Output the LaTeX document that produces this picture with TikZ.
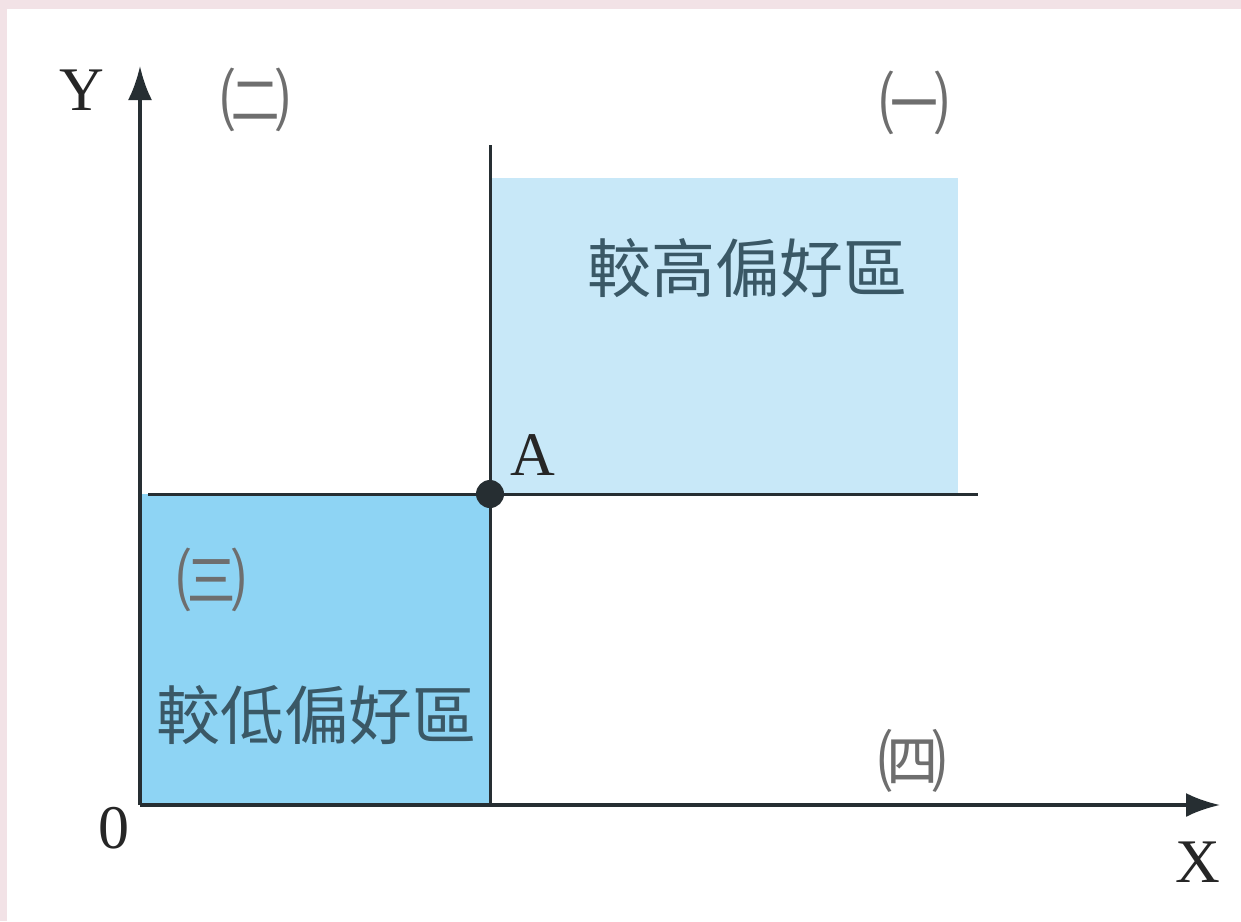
\documentclass[tikz,border=0pt]{standalone}
\usepackage{fontspec}
\setmainfont{Liberation Serif}
\newfontfamily\cjk{Noto Sans CJK TC}
\usetikzlibrary{arrows.meta}
\definecolor{hiblue}{HTML}{C8E8F8}
\definecolor{loblue}{HTML}{8ED4F4}
\definecolor{axiscol}{HTML}{262E32}
\definecolor{cjktext}{HTML}{3A5866}
\definecolor{numtext}{HTML}{6E6E6E}
\definecolor{scan}{HTML}{F2E2E6}
\tikzset{
  axisline/.style={draw=axiscol, line width=3.5pt, -{Latex[length=34pt,width=24pt]}},
  boundary/.style={draw=axiscol, line width=3pt},
  latin/.style={font=\fontsize{62}{62}\selectfont, text=black!85, inner sep=0pt, anchor=base},
  cjklabel/.style={font=\cjk\fontsize{64}{64}\selectfont, text=cjktext, inner sep=0pt},
  quadrant/.style={font=\cjk\fontsize{70}{70}\selectfont, text=numtext, inner sep=0pt},
  dot/.style={circle, fill=axiscol, minimum size=28pt, inner sep=0pt}
}
\begin{document}
\begin{tikzpicture}[x=1pt,y=-1pt]
\useasboundingbox (0,0) rectangle (1241,921);
\fill[white] (0,0) rectangle (1241,921);
\fill[scan] (0,0) rectangle (1241,9);
\fill[scan] (0,0) rectangle (7,921);
% shaded regions
\fill[hiblue] (490,178) rectangle (958,494);
\fill[loblue] (140,494) rectangle (490,805);
% coordinates
\coordinate (O) at (140,805);
\coordinate (Ytip) at (140,66);
\coordinate (Xtip) at (1220,805);
\coordinate (vtop) at (490,145);
\coordinate (vbot) at (490,805);
\coordinate (hleft) at (148,494);
\coordinate (hright) at (978,494);
% boundaries
\draw[boundary] (vtop) -- (vbot);
\draw[boundary] (hleft) -- (hright);
% axes
\draw[axisline] (O) -- (Ytip);
\draw[axisline] (O) -- (Xtip);
% point A
\node[dot] (A) at (490,494) {};
% labels
\node[latin] (Ylab) at (82,110) {Y};
\node[latin] (Xlab) at (1198,882) {X};
\node[latin] (Olab) at (114,848) {0};
\node[latin] (Alab) at (533,475) {A};
\node[quadrant] (q1) at (914,103) {㈠};
\node[quadrant] (q2) at (255,100) {㈡};
\node[quadrant] (q3) at (211,580) {㈢};
\node[quadrant] (q4) at (912,761) {㈣};
\node[cjklabel] (hi) at (747,268) {較高偏好區};
\node[cjklabel] (lo) at (316,715) {較低偏好區};
\end{tikzpicture}
\end{document}
